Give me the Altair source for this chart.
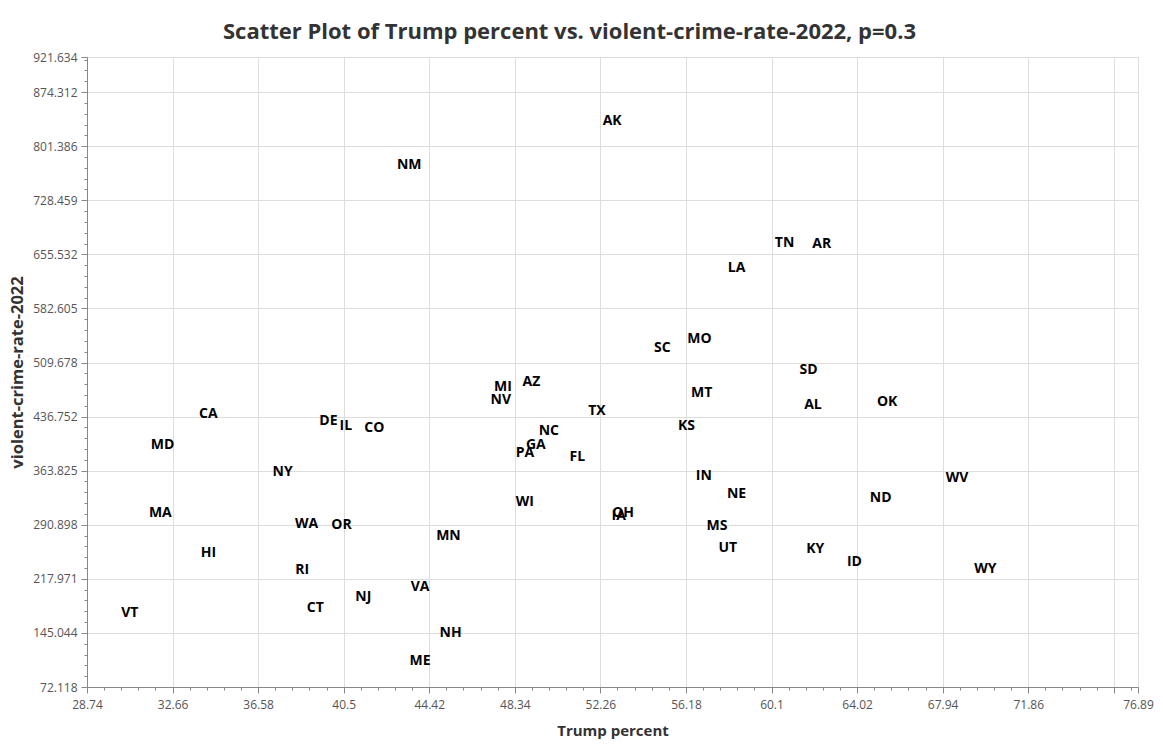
import altair as alt
import pandas as pd

states = ["AK", "NM", "TN", "AR", "LA", "MO", "SC", "SD", "MT", "AZ",
          "MI", "NV", "OK", "AL", "TX", "KS", "CA", "DE", "IL", "CO",
          "NC", "GA", "PA", "FL", "MD", "NY", "WV", "IN", "NE", "ND",
          "WI", "OH", "IA", "MA", "WA", "OR", "MS", "MN", "UT", "KY",
          "HI", "ID", "RI", "WY", "VA", "NJ", "CT", "VT", "NH", "ME"]
trump_pct = [52.8, 43.5, 60.7, 62.4, 58.5, 56.8, 55.1, 61.8, 56.9, 49.1,
             47.8, 47.7, 65.4, 62.0, 52.1, 56.2, 34.3, 39.8, 40.6, 41.9,
             49.9, 49.3, 48.8, 51.2, 32.2, 37.7, 68.6, 57.0, 58.5, 65.1,
             48.8, 53.3, 53.1, 32.1, 38.8, 40.4, 57.6, 45.3, 58.1, 62.1,
             34.3, 63.9, 38.6, 69.9, 44.0, 41.4, 39.2, 30.7, 45.4, 44.0]
crime_rate = [836.9, 777.5, 672.2, 670.5, 638.1, 542.7, 530.5, 500.9, 469.8, 484.7,
              478.3, 460.4, 457.7, 454.0, 445.5, 425.3, 441.1, 432.0, 425.3, 422.6,
              418.5, 399.6, 388.8, 383.0, 399.6, 363.6, 355.1, 357.8, 333.1, 328.1,
              322.7, 308.3, 303.4, 307.9, 293.0, 291.7, 290.7, 276.8, 261.1, 258.9,
              253.9, 241.7, 230.9, 233.2, 208.0, 194.5, 180.6, 172.9, 145.9, 108.1]

# major ticks (75.78 carries a tick and grid line but no label)
x_ticks = [28.74, 32.66, 36.58, 40.5, 44.42, 48.34, 52.26, 56.18, 60.1, 64.02,
           67.94, 71.86, 75.78, 76.89]
x_unlabeled = 75.78
y_ticks = [72.118, 145.044, 217.971, 290.898, 363.825, 436.752, 509.678, 582.605,
           655.532, 728.459, 801.386, 874.312, 921.634]
x_domain = [28.74, 76.89]
y_domain = [72.118, 921.634]

# minor tick positions (5 subdivisions per major interval)
x_step = (x_ticks[1] - x_ticks[0]) / 5
y_step = (y_ticks[1] - y_ticks[0]) / 5
x_minor = []
i = 1
while x_ticks[0] + x_step * i < x_domain[1] - 0.01:
    if i % 5 != 0:
        x_minor.append(round(x_ticks[0] + x_step * i, 4))
    i += 1
y_minor = []
i = 1
while y_ticks[0] + y_step * i < y_domain[1] - 0.5:
    if i % 5 != 0:
        y_minor.append(round(y_ticks[0] + y_step * i, 4))
    i += 1

df = pd.DataFrame({"state": states, "trump": trump_pct, "crime": crime_rate})

FONT = "Open Sans"
AX_COL = "#b8b8b8"
LBL_COL = "#555555"

xscale = alt.Scale(domain=x_domain, nice=False, zero=False)
yscale = alt.Scale(domain=y_domain, nice=False, zero=False)

labels = alt.Chart(df).mark_text(
    font=FONT, fontWeight="bold", fontSize=14, color="#000000",
    align="center", baseline="middle", dy=1
).encode(
    x=alt.X("trump:Q", scale=xscale, axis=alt.Axis(
        values=x_ticks, format=".2~f", title="Trump percent",
        labelExpr=f"abs(datum.value - {x_unlabeled}) < 0.001 ? '' : datum.label",
        orient="bottom", grid=True, tickSize=6, labelPadding=6,
        labelFont=FONT, labelFontSize=12, labelColor=LBL_COL, labelFlush=False,
        titleX=525.5, titleY=43, titleAlign="center", titleBaseline="middle",
        titleFont=FONT, titleFontSize=15, titleFontWeight="bold", titleColor="#333333")),
    y=alt.Y("crime:Q", scale=yscale, axis=alt.Axis(
        values=y_ticks, format=".3~f", title="violent-crime-rate-2022",
        orient="left", grid=True, tickSize=6, labelPadding=4,
        labelFont=FONT, labelFontSize=12, labelColor=LBL_COL, labelFlush=False,
        titleX=-70, titleY=315, titleAlign="center", titleBaseline="middle",
        titleFont=FONT, titleFontSize=16.5, titleFontWeight="bold", titleColor="#333333")),
    text="state:N",
)

minor = alt.Chart(df).mark_point(opacity=0).encode(
    x=alt.X("trump:Q", scale=xscale, axis=alt.Axis(
        values=x_minor, orient="bottom", labels=False, grid=False, domain=False,
        tickSize=3, title="")),
    y=alt.Y("crime:Q", scale=yscale, axis=alt.Axis(
        values=y_minor, orient="left", labels=False, grid=False, domain=False,
        tickSize=3, title="")),
)

chart = alt.layer(labels, minor).resolve_axis(
    x="independent", y="independent"
).properties(
    width=1051, height=630,
    autosize=alt.AutoSizeParams(type="none"),
    padding={"left": 79, "top": 49, "right": 16, "bottom": 53},
    title=alt.TitleParams(
        text="Scatter Plot of Trump percent vs. violent-crime-rate-2022, p=0.3",
        font=FONT, fontSize=22, fontWeight="bold", color="#333333",
        anchor="middle", dx=-43, offset=7),
).configure_view(
    fill="#f2f2f2", strokeWidth=0
).configure_axis(
    domainColor=AX_COL, tickColor=AX_COL,
    gridColor="#d3d3d3", gridDash=[4, 3],
).configure(background="#ffffff")

chart.save("out.html", embed_options={"renderer": "svg", "actions": False})
